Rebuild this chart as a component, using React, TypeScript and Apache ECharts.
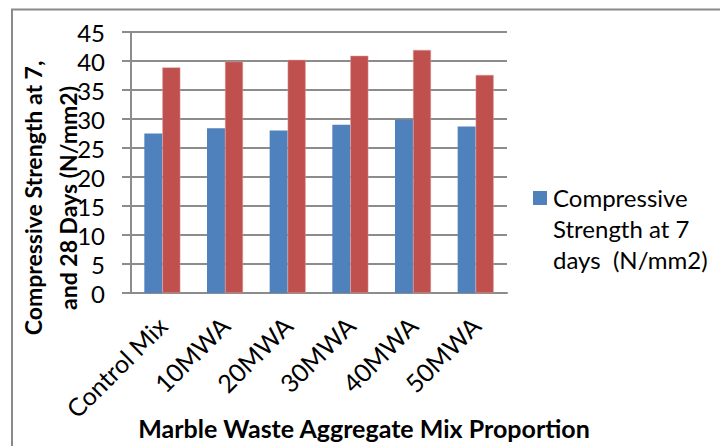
import React, { useEffect, useRef } from "react";
import * as echarts from "echarts";

const categories = ["Control Mix", "10MWA", "20MWA", "30MWA", "40MWA", "50MWA"];
const strength7 = [27.5, 28.4, 28.0, 29.0, 29.9, 28.7];
const strength28 = [38.9, 39.9, 40.2, 40.9, 41.9, 37.6];
const seriesNames = [
  "Compressive Strength at 7 days  (N/mm2)",
  "Compressive Strength at 28 days  (N/mm2)",
];
const legendLines = ["Compressive", "Strength at 7", "days  (N/mm2)"];
const yTitleLines = ["Compressive Strength at 7,", "and 28 Days (N/mm2)"];
const xTitle = "Marble Waste Aggregate Mix Proportion";

const FONT = "Lato";

export default function App() {
  const ref = useRef<HTMLDivElement>(null);
  useEffect(() => {
    if (!ref.current) return;
    const chart = echarts.init(ref.current, undefined, { renderer: "svg" });
    chart.setOption({
      animation: false,
      backgroundColor: "#ffffff",
      textStyle: { fontFamily: FONT },
      grid: { left: 131, right: 213, top: 32, bottom: 153, containLabel: false },
      xAxis: {
        type: "category",
        data: categories,
        axisLine: { lineStyle: { color: "#8c8c8c", width: 2 } },
        axisTick: { show: false },
        axisLabel: {
          rotate: 45,
          interval: 0,
          fontSize: 25,
          color: "#000",
          fontFamily: FONT,
          margin: 28,
        },
      },
      yAxis: {
        type: "value",
        min: 0,
        max: 45,
        interval: 5,
        axisLine: { show: true, lineStyle: { color: "#8c8c8c", width: 2 } },
        axisTick: { show: true, inside: false, length: 9, lineStyle: { color: "#8c8c8c", width: 2 } },
        splitLine: { lineStyle: { color: "#8c8c8c", width: 2 } },
        axisLabel: { fontSize: 24, color: "#000", fontFamily: FONT, margin: 26 },
      },
      series: [
        {
          name: seriesNames[0],
          type: "bar",
          data: strength7,
          barWidth: 18,
          barGap: "0%",
          itemStyle: { color: "#4F81BD" },
        },
        {
          name: seriesNames[1],
          type: "bar",
          data: strength28,
          barWidth: 18,
          itemStyle: { color: "#C0504D", borderColor: "#d9a09e", borderWidth: 0.5 },
        },
      ],
      graphic: [
        {
          type: "rect",
          shape: { x: 12, y: 9.5, width: 900, height: 600 },
          style: { fill: "none", stroke: "#8a8a8a", lineWidth: 2 },
          silent: true,
        },
        {
          type: "text",
          x: 50,
          y: 198,
          rotation: Math.PI / 2,
          style: {
            text: yTitleLines.join("\n"),
            font: `bold 23px ${FONT}`,
            fill: "#000",
            textAlign: "center",
            textVerticalAlign: "middle",
            lineHeight: 35,
          },
        },
        {
          type: "text",
          x: 364,
          y: 428,
          style: {
            text: xTitle,
            font: `bold 25px ${FONT}`,
            fill: "#000",
            textAlign: "center",
            textVerticalAlign: "middle",
          },
        },
        {
          type: "rect",
          shape: { x: 533, y: 191, width: 14, height: 14 },
          style: { fill: "#4F81BD" },
        },
        {
          type: "text",
          x: 553,
          y: 182,
          style: {
            text: legendLines.join("\n"),
            font: `24px ${FONT}`,
            fill: "#000",
            textAlign: "left",
            textVerticalAlign: "top",
            lineHeight: 31,
          },
        },
      ],
    });
    return () => chart.dispose();
  }, []);
  return (
    <div
      ref={ref}
      style={{ position: "fixed", left: 0, top: 0, width: 720, height: 446, background: "#fff" }}
    />
  );
}
